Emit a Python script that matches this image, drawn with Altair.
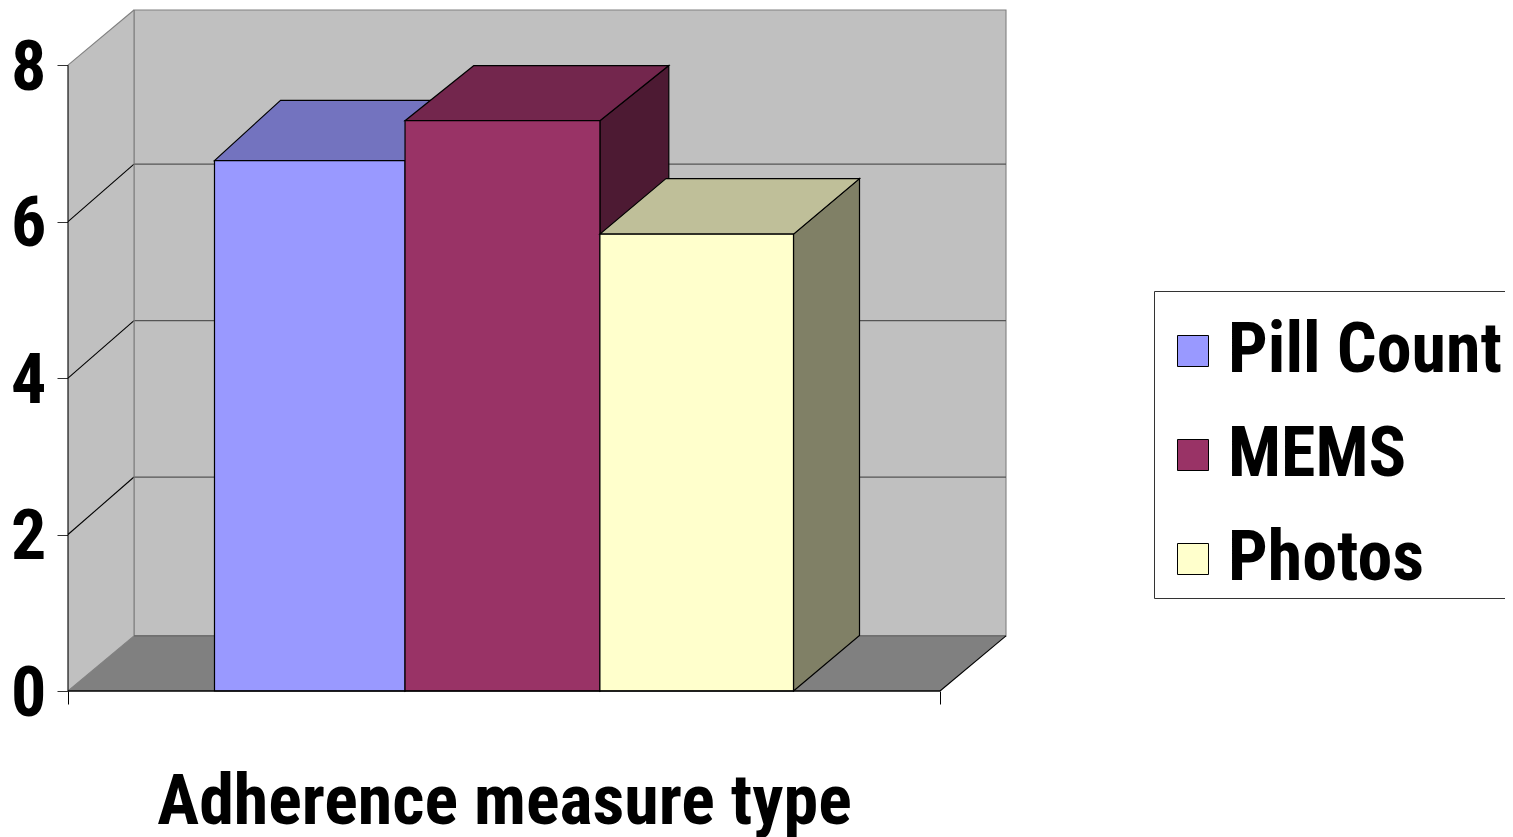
import altair as alt
import pandas as pd

categories = ["Pill Count", "MEMS", "Photos"]
values = [6.78, 7.29, 5.84]
fills = ["#9999FF", "#993366", "#FFFFCC"]
tops = ["#7373BF", "#73264D", "#BFBF99"]
sides = ["#4D4D80", "#4D1A33", "#808066"]
y_ticks = [0, 2, 4, 6, 8]
grid_values = [2, 4, 6]
x_title = "Adherence measure type"
FONT = "Roboto Condensed"

# geometry of the oblique box, in axis units
X_MAX, Y_MAX = 1.0757, 8.705
DX, DY = 0.0757, 0.705
GRID_DY = 0.735
edges = [0.168, 0.3865, 0.610, 0.832]
depth_y = [0.77, 0.705, 0.71]
depth_x = [0.0757, 0.079, 0.0757]

sx = alt.Scale(domain=[0, X_MAX], nice=False, zero=False)
sy = alt.Scale(domain=[0, Y_MAX], nice=False, zero=False)
X = alt.X("x0:Q", scale=sx, title=x_title, axis=alt.Axis(
    values=[0, 1], labels=False, domain=False, grid=False, tickSize=13,
    tickColor="black", titleFont=FONT, titleFontSize=70, titleFontWeight="bold",
    titleColor="black", titleX=436, titleY=132, titleAlign="center",
    titleBaseline="alphabetic", titleAnchor="start"))
Y = alt.Y("y0:Q", scale=sy, title=None, axis=alt.Axis(
    values=y_ticks, domain=False, grid=False, tickSize=11, tickColor="#333333",
    labelFont=FONT, labelFontSize=70, labelFontWeight="bold", labelColor="black",
    labelPadding=11, labelOffset=3, labelFlush=False, format="d"))


def rule(rows, color, width=1.0):
    df = pd.DataFrame(rows, columns=["x0", "x1", "y0", "y1"])
    return alt.Chart(df).mark_rule(color=color, strokeWidth=width).encode(
        x=X, x2="x1:Q", y=Y, y2="y1:Q"
    )


def vface(x0, x1, lo0, hi0, lo1, hi1, fill, stroke=None):
    """Parallelogram with vertical left and right sides."""
    df = pd.DataFrame({"x0": [x0, x1], "y0": [lo0, lo1], "y1": [hi0, hi1]})
    kw = dict(stroke=stroke, strokeWidth=1.2) if stroke else {}
    return alt.Chart(df).mark_area(fill=fill, opacity=1, **kw).encode(x=X, y=Y, y2="y1:Q")


def hface(y0, y1, a0, b0, a1, b1, fill, stroke=None):
    """Parallelogram with horizontal top and bottom sides."""
    df = pd.DataFrame({"y0": [y0, y1], "x0": [a0, a1], "x1": [b0, b1]})
    kw = dict(stroke=stroke, strokeWidth=1.2) if stroke else {}
    return alt.Chart(df).mark_area(orient="horizontal", fill=fill, opacity=1, **kw).encode(
        y=Y, x=X, x2="x1:Q"
    )


layers = []

# walls and floor
back = pd.DataFrame({"x0": [DX], "x1": [1 + DX], "y0": [DY], "y1": [8 + DY]})
layers.append(alt.Chart(back).mark_rect(fill="#C0C0C0", stroke="#808080", strokeWidth=1.1).encode(
    x=X, x2="x1:Q", y=Y, y2="y1:Q"))
layers.append(vface(0, DX, 0, 8, DY, 8 + DY, "#C0C0C0"))
layers.append(hface(0, DY, 0, 1, DX, 1 + DX, "#808080"))
layers.append(rule([[DX, 1 + DX, g + GRID_DY, g + GRID_DY] for g in grid_values], "#555555", 1.2))
layers.append(rule([[0, DX, g, g + GRID_DY] for g in grid_values], "black", 1.1))
layers.append(rule([[0, DX, 8, 8 + DY], [0, DX, 0, DY], [DX, DX, DY, 8 + DY]], "#808080", 1.1))
layers.append(rule([[DX, 1 + DX, DY, DY]], "#666666", 1.2))
layers.append(rule([[1, 1 + DX, 0, DY]], "black", 1.1))

# bars: side, top, then front so that later bars cover earlier ones
for i, (cat, v) in enumerate(zip(categories, values)):
    x0, x1 = edges[i], edges[i + 1]
    dx, dy = depth_x[i], depth_y[i]
    layers.append(vface(x1, x1 + dx, 0, v, dy, v + dy, sides[i], "black"))
    layers.append(hface(v, v + dy, x0, x1, x0 + dx, x1 + dx, tops[i], "black"))
    front = pd.DataFrame({"series": [cat], "x0": [x0], "x1": [x1], "y0": [0.0], "y1": [v]})
    layers.append(alt.Chart(front).mark_rect(stroke="black", strokeWidth=1.2, opacity=1).encode(
        x=X, x2="x1:Q", y=Y, y2="y1:Q",
        fill=alt.Fill("series:N",
                      scale=alt.Scale(domain=categories, range=fills),
                      sort=categories,
                      legend=alt.Legend(
                          orient="none", legendX=1086, legendY=281,
                          title="\u00a0" * 150, titleFontSize=10, titlePadding=11, titleLimit=900,
                          symbolType="square", symbolSize=961,
                          symbolStrokeColor="black", symbolStrokeWidth=1, symbolOpacity=1,
                          labelFont=FONT, labelFontSize=70, labelFontWeight="bold",
                          labelColor="black", labelOffset=0, labelLimit=500,
                          rowPadding=34, padding=4,
                          fillColor="white", strokeColor="#333333",
                      ))))

# front edges
layers.append(rule([[0, 1, 0, 0]], "black", 1.3))
layers.append(rule([[0, 0, 0, 8]], "black", 1.1))

chart = alt.layer(*layers).resolve_scale(x="shared", y="shared").properties(
    width=938, height=681,
    autosize=alt.AutoSizeParams(type="none"),
    padding={"left": 60, "top": 2, "right": 499, "bottom": 146},
).configure_view(stroke=None)

chart.save("out.html", embed_options={"renderer": "svg", "actions": False})
